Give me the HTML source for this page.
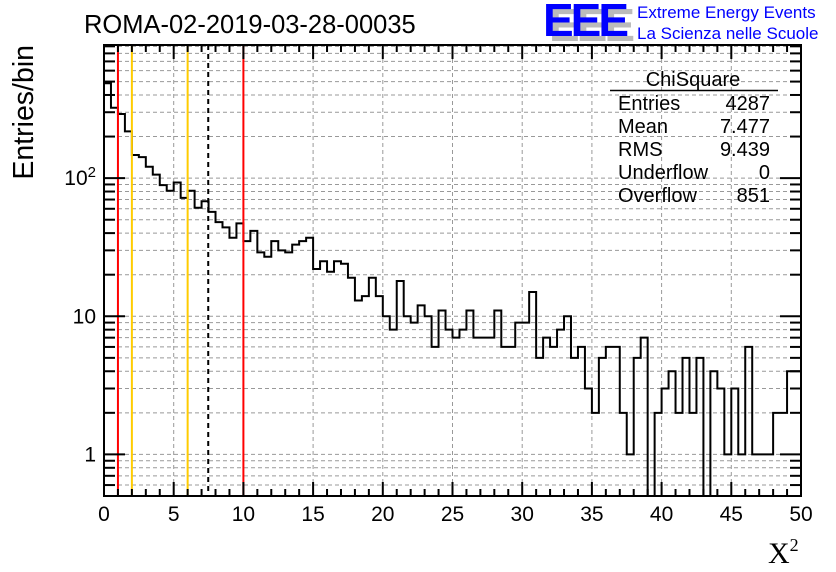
<!DOCTYPE html>
<html><head><meta charset="utf-8"><style>
html,body{margin:0;padding:0;background:#fff;width:836px;height:572px;overflow:hidden}
svg{display:block;font-family:"Liberation Sans",sans-serif}
</style></head><body>
<svg id="c" width="836" height="572" xmlns="http://www.w3.org/2000/svg">
<text x="84" y="33" font-size="25.5">ROMA-02-2019-03-28-00035</text>
<g>
<text x="549" y="41" font-size="46" font-weight="bold" fill="#bbb" letter-spacing="-3">EEE</text>
<text x="543" y="36" font-size="46" font-weight="bold" fill="#0000ff" letter-spacing="-3">EEE</text>
<text x="637" y="18" font-size="17" fill="#0000ff">Extreme Energy Events</text>
<text x="637" y="39" font-size="17" fill="#0000ff">La Scienza nelle Scuole</text>
</g>
<text transform="translate(33,45) rotate(-90)" text-anchor="end" font-size="28.5">Entries/bin</text>
<text x="768" y="563" font-family="Liberation Serif,serif" font-size="30">X<tspan font-size="18" dy="-12">2</tspan></text>
<g id="grid"></g><g id="marks"></g><g id="axes"></g>
<g font-size="20">
<text x="693" y="86" text-anchor="middle">ChiSquare</text>
<line x1="610" y1="90.5" x2="778" y2="90.5" stroke="#000" stroke-width="1.5"/>
<text x="618" y="110">Entries</text><text x="770" y="110" text-anchor="end">4287</text>
<text x="618" y="133">Mean</text><text x="770" y="133" text-anchor="end">7.477</text>
<text x="618" y="156">RMS</text><text x="770" y="156" text-anchor="end">9.439</text>
<text x="618" y="179">Underflow</text><text x="770" y="179" text-anchor="end">0</text>
<text x="618" y="202">Overflow</text><text x="770" y="202" text-anchor="end">851</text>
</g>
</svg>
<script>
const counts=[486,323,291,218,147,142,121,106,89,81,93,72,81,61,68,57,48,44,37,47,35,41.5,29,27,35,30,29,33,35,37,22,25,21,25,24,19,13,14,19,14,10,8,18,10,9,12,10,6,11,8,7,8,11,7,7,7,11,6,6,9,9,15,5,7,6,8,10,5,6,3,2,5,6,6,2,1,5,7,0,2,3,4,2,5,2,5,0,4,3,1,3,1,6,1,1,1,2,2,4,4];
const xTicks=[0,5,10,15,20,25,30,35,40,45,50];
const yTicks=[1,10,100];
const vlines=[{x:1,c:"#ff0000",d:""},{x:2,c:"#ffcc00",d:""},{x:6,c:"#ffcc00",d:""},{x:7.477,c:"#000",d:"5,4"},{x:10,c:"#ff0000",d:""}];
const X0=104,X1=801,Y0=45,Y1=496,XMIN=0,XMAX=50,YMIN=0.5,YMAX=920;
const sx=v=>X0+(v-XMIN)/(XMAX-XMIN)*(X1-X0);
const sy=v=>Y1-(Math.log10(v)-Math.log10(YMIN))/(Math.log10(YMAX)-Math.log10(YMIN))*(Y1-Y0);
const NS="http://www.w3.org/2000/svg";
function mk(p,t,a){const e=document.createElementNS(NS,t);for(const k in a)e.setAttribute(k,a[k]);p.appendChild(e);return e;}
const grid=document.getElementById('grid'),marks=document.getElementById('marks'),axes=document.getElementById('axes');
xTicks.forEach(t=>{if(t>XMIN&&t<XMAX){const l=mk(grid,'line',{x1:sx(t),x2:sx(t),y1:Y0,y2:Y1,stroke:'#999','stroke-dasharray':'4,3'});

}});
const ylev=[];for(let d=0.1;d<=1000;d*=10)for(let m=1;m<10;m++){const v=Math.round(d*m*100)/100;if(v>=YMIN&&v<=YMAX)ylev.push(v);}
ylev.forEach(v=>{const l=mk(grid,'line',{x1:X0,x2:X1,y1:sy(v),y2:sy(v),stroke:'#999','stroke-dasharray':'4,3'});

});
const bw=(XMAX-XMIN)/counts.length;let d='';
counts.forEach((c,i)=>{const y=c>0?sy(c):Y1;const xa=sx(i*bw),xb=sx((i+1)*bw);d+=(i===0?'M'+xa+','+Y1+' L':' L')+xa+','+y+' L'+xb+','+y;});
d+=' L'+X1+','+Y1;
const h=mk(marks,'path',{d:d,fill:'none',stroke:'#000','stroke-width':2});


vlines.forEach(v=>{const l=mk(marks,'line',{x1:sx(v.x),x2:sx(v.x),y1:Y0,y2:Y1,stroke:v.c,'stroke-width':2,'stroke-dasharray':v.d});

});
const f=mk(axes,'rect',{x:X0,y:Y0,width:X1-X0,height:Y1-Y0,fill:'none',stroke:'#000','stroke-width':2});


for(let t=XMIN;t<=XMAX;t++){const big=t%5===0,L=big?14:7;
mk(axes,'line',{x1:sx(t),x2:sx(t),y1:Y1,y2:Y1-L,stroke:'#000','stroke-width':2});
mk(axes,'line',{x1:sx(t),x2:sx(t),y1:Y0,y2:Y0+L,stroke:'#000','stroke-width':2});}
xTicks.forEach(t=>{const tx=mk(axes,'text',{x:sx(t),y:521,'text-anchor':'middle','font-size':21});tx.textContent=t;

});
ylev.forEach(v=>{const big=yTicks.includes(v),L=big?21:11;
mk(axes,'line',{x1:X0,x2:X0+L,y1:sy(v),y2:sy(v),stroke:'#000','stroke-width':2});
mk(axes,'line',{x1:X1,x2:X1-L,y1:sy(v),y2:sy(v),stroke:'#000','stroke-width':2});});
yTicks.forEach(v=>{const tx=mk(axes,'text',{x:96,y:sy(v)+7,'text-anchor':'end','font-size':21});
if(v===100){tx.textContent='10';const s=mk(tx,'tspan',{'font-size':15,dy:-8});s.textContent='2';}else tx.textContent=v;

});
</script>
</body></html>
